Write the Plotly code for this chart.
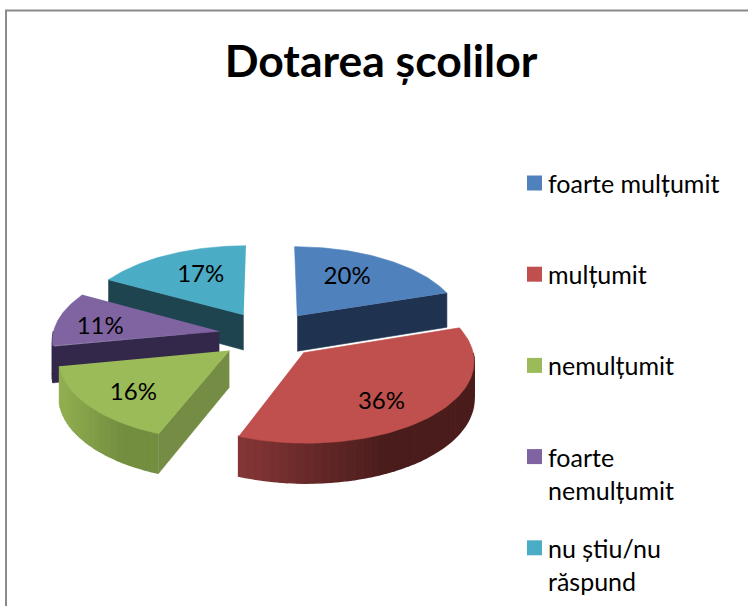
import numpy as np
import plotly.graph_objects as go

# ---- data ----
title_text = "Dotarea școlilor"
categories = ["foarte mulțumit", "mulțumit", "nemulțumit", "foarte<br>nemulțumit", "nu știu/nu<br>răspund"]
values = [20, 36, 16, 11, 17]

# ---- styles ----
top_colors = ["#4f81bd", "#c0504d", "#9bbb59", "#8064a2", "#4bacc6"]
wall_colors = ["#1f3350", "#4a1c1c", "#748c43", "#33284a", "#1e444f"]
arc_left = [None, (134, 54, 54), (146, 176, 80), (51, 40, 74), None]
arc_right = [None, (74, 28, 28), (116, 142, 64), (51, 40, 74), None]
label_radius = [0.58, 0.75, 0.78, 0.72, 0.57]
label_nudge = [(-2, -4), (-15, 3), (12, 1), (-3, 6), (1, -3)]
draw_order = [4, 0, 3, 2, 1]
FONT = "Lato, Carlito, Calibri, sans-serif"

# ---- projection of the exploded, tilted pie ----
CX, CY, A, B, K, DEPTH, PULL = 268.5, 335, 166.5, 80, 0.09, 36, 0.30


def project(wx, wy, z=0.0):
    s = 1 + K * wy
    return CX + A * wx * s, CY + B * wy * s + DEPTH * z * s


def unit(theta):
    return np.sin(theta), -np.cos(theta)


fractions = np.array(values) / sum(values)
edges = np.concatenate([[0], np.cumsum(fractions)]) * 2 * np.pi


def poly_trace(xs, ys, color, width=0.6):
    return go.Scatter(x=list(xs), y=list(ys), mode="lines", fill="toself", fillcolor=color,
                      line=dict(color=color, width=width), hoverinfo="skip", showlegend=False)


fig = go.Figure()
for i in draw_order:
    t0, t1 = edges[i], edges[i + 1]
    mid = (t0 + t1) / 2
    ox, oy = unit(mid)
    ox, oy = ox * PULL, oy * PULL

    def rim(t):
        ux, uy = unit(t)
        return ox + ux, oy + uy

    # outer front-facing wall, shaded in thin strips
    a0, a1 = max(t0, np.pi / 2), min(t1, 3 * np.pi / 2)
    if a1 > a0 and arc_left[i] is not None:
        n = max(4, int((a1 - a0) * 22))
        grid = np.linspace(a0, a1, n + 1)
        xl = min(project(*rim(t))[0] for t in grid)
        xr = max(project(*rim(t))[0] for t in grid)
        for g0, g1 in zip(grid[:-1], grid[1:]):
            tt = np.linspace(g0, g1, 4)
            top = [project(*rim(t)) for t in tt]
            bot = [project(*rim(t), 1) for t in tt[::-1]]
            f = min(1, max(0, ((top[0][0] + top[-1][0]) / 2 - xl) / (0.62 * (xr - xl))))
            c = [round(l + (r - l) * f) for l, r in zip(arc_left[i], arc_right[i])]
            pts = top + bot
            fig.add_trace(poly_trace([p[0] for p in pts], [p[1] for p in pts], f"rgb({c[0]},{c[1]},{c[2]})", 1.5))

    # radial wall on the lower edge of the wedge
    if i != 1:
        lower = t1 if i == 0 else t0
        ex, ey = rim(lower)
        pts = [project(ox, oy), project(ex, ey), project(ex, ey, 1), project(ox, oy, 1)]
        fig.add_trace(poly_trace([p[0] for p in pts], [p[1] for p in pts], wall_colors[i]))

    # top face
    tt = np.linspace(t0, t1, 80)
    pts = [project(ox, oy)] + [project(*rim(t)) for t in tt]
    fig.add_trace(poly_trace([p[0] for p in pts], [p[1] for p in pts], top_colors[i]))

# percentage labels
lx, ly, lt = [], [], []
for i, v in enumerate(values):
    mid = (edges[i] + edges[i + 1]) / 2
    ux, uy = unit(mid)
    px, py = project(ux * (PULL + label_radius[i]), uy * (PULL + label_radius[i]))
    lx.append(px + label_nudge[i][0])
    ly.append(py + label_nudge[i][1])
    lt.append(f"{v}%")
fig.add_trace(go.Scatter(x=lx, y=ly, mode="text", text=lt, textposition="middle center",
                         textfont=dict(family=FONT, size=24, color="#000"),
                         hoverinfo="skip", showlegend=False))

# legend: swatches and labels
LEG_X, LEG_Y0, LEG_STEP = 534.5, 183, 91.2
for i, cat in enumerate(categories):
    y = LEG_Y0 + i * LEG_STEP
    fig.add_trace(go.Scatter(x=[LEG_X], y=[y], mode="markers", name=cat.replace("<br>", " "),
                             marker=dict(symbol="square", size=15, color=top_colors[i]),
                             hoverinfo="name", showlegend=False))
    fig.add_annotation(x=546, y=y - 17, xref="x", yref="y", text=cat, showarrow=False,
                       xanchor="left", yanchor="top", align="left",
                       font=dict(family=FONT, size=25, color="#000"))

fig.update_layout(
    width=748, height=606, autosize=False,
    margin=dict(l=0, r=0, t=0, b=0),
    paper_bgcolor="white", plot_bgcolor="white",
    xaxis=dict(range=[0, 748], visible=False, fixedrange=True),
    yaxis=dict(range=[606, 0], visible=False, fixedrange=True),
    title=dict(text=f"<b>{title_text}</b>", x=381 / 748, xanchor="center", y=1 - 61 / 606, yanchor="middle",
               font=dict(family=FONT, size=44.5, color="#000")),
    shapes=[dict(type="rect", xref="x", yref="y", x0=6, y0=10.5, x1=800, y1=700,
                 line=dict(color="#8a8a8a", width=2), fillcolor="rgba(0,0,0,0)", layer="below")],
)
fig.write_html("out.html", post_script="document.body.style.margin='0';", config={"displayModeBar": False})
